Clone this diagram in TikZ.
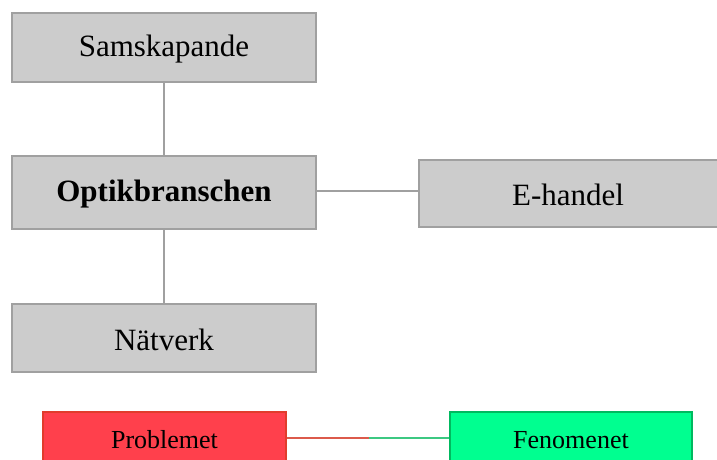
\documentclass[tikz,border=0pt]{standalone}
\usepackage{fontspec}
\setmainfont{Liberation Serif}
\definecolor{boxgray}{RGB}{204,204,204}
\definecolor{edgegray}{RGB}{160,160,160}
\definecolor{redfill}{RGB}{255,64,76}
\definecolor{rededge}{RGB}{225,60,45}
\definecolor{greenfill}{RGB}{0,255,144}
\definecolor{greenedge}{RGB}{0,185,95}
\definecolor{redline}{RGB}{220,90,75}
\definecolor{greenline}{RGB}{60,200,130}
\begin{document}
\begin{tikzpicture}[x=1pt,y=-1pt,
  graybox/.style={draw=edgegray,fill=boxgray,line width=1.2pt,inner sep=0pt},
  bigtext/.style={font=\fontsize{31}{36}\selectfont},
  conn/.style={draw=edgegray,line width=1.2pt},
  redbox/.style={draw=rededge,fill=redfill,line width=1.2pt,inner sep=0pt},
  greenbox/.style={draw=greenedge,fill=greenfill,line width=1.2pt,inner sep=0pt},
  smalltext/.style={font=\fontsize{26}{30}\selectfont}]
\useasboundingbox (0,0) rectangle (717,459);
\clip (0,0) rectangle (717,459);
\node[graybox,minimum width=304pt,minimum height=69pt] (sam) at (164,47.5) {};
\node[bigtext] (saml) at (164,49.5) {Samskapande};
\node[graybox,minimum width=304pt,minimum height=73pt] (opt) at (164,192.5) {};
\node[bigtext,font=\fontsize{31}{36}\selectfont\bfseries] (optl) at (164,194) {Optikbranschen};
\node[graybox,minimum width=304pt,minimum height=67pt] (eh) at (571,193.5) {};
\node[bigtext] (ehl) at (568,195) {E-handel};
\node[graybox,minimum width=304pt,minimum height=68pt] (nat) at (164,338) {};
\node[bigtext] (natl) at (164,339.5) {Nätverk};
\draw[conn] (sam.south) -- (opt.north);
\draw[conn] (opt.south) -- (nat.north);
\draw[conn] (opt.east |- 0,191) -- (eh.west |- 0,191);
\node[redbox,minimum width=243pt,minimum height=60pt] (prob) at (164.5,442) {};
\node[smalltext] (probl) at (164.5,440) {Problemet};
\node[greenbox,minimum width=242pt,minimum height=60pt] (fen) at (571,442) {};
\node[smalltext] (fenl) at (571,440) {Fenomenet};
\coordinate (mid) at (369,438);
\draw[draw=redline,line width=1.2pt] (prob.east |- mid) -- (mid);
\draw[draw=greenline,line width=1.2pt] (mid) -- (fen.west |- mid);
\end{tikzpicture}
\end{document}
